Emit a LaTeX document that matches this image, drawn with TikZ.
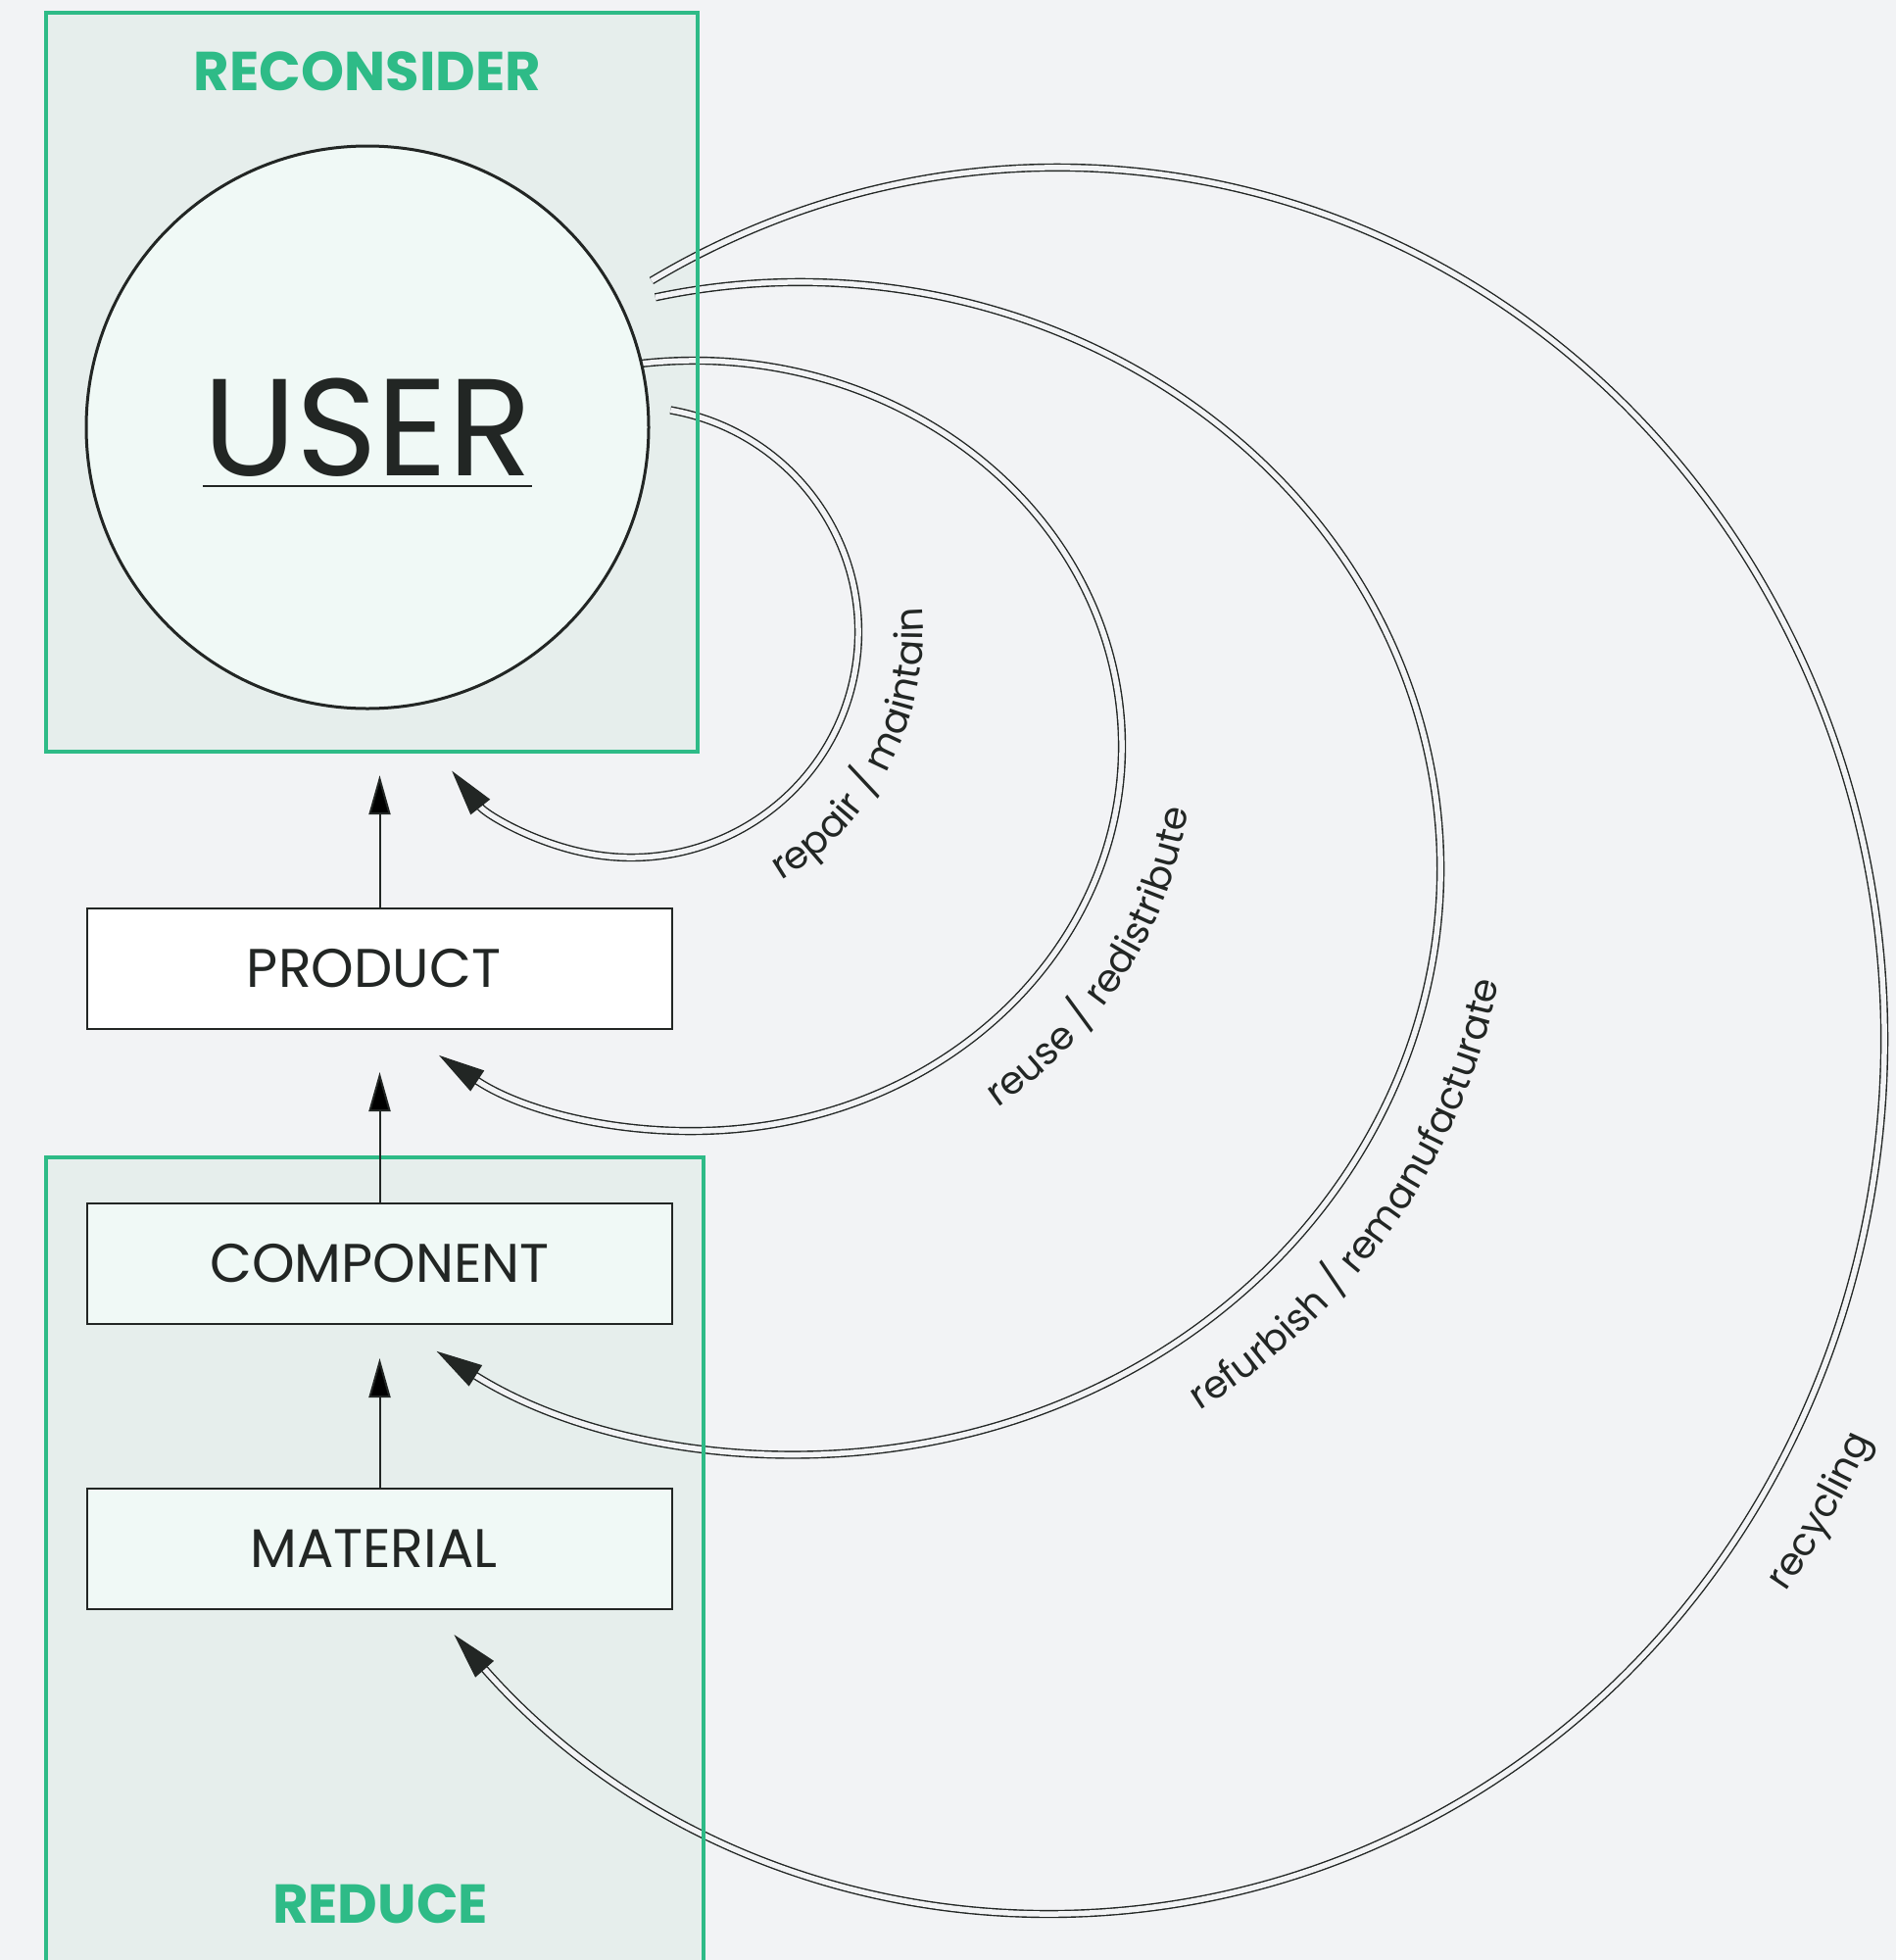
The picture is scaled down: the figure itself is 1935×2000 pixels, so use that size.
\documentclass[tikz,border=0pt]{standalone}
\usepackage{fontspec}
\setmainfont{Poppins}
\usetikzlibrary{arrows.meta,calc,decorations.text}

\definecolor{paper}{HTML}{F2F3F5}
\definecolor{groupfill}{HTML}{E6EEEC}
\definecolor{mint}{HTML}{F0F9F6}
\definecolor{leaf}{HTML}{2EBB87}
\definecolor{ink}{HTML}{222624}

\newcommand\titlefont{\fontsize{56}{60}\selectfont\bfseries}
\newcommand\userfont{\fontsize{141}{146}\selectfont}
\newcommand\stagefont{\fontsize{55.5}{60}\selectfont}
\newcommand\lblfont{\fontsize{39}{42}\selectfont}

\tikzset{
  groupbg/.style={fill=groupfill, draw=none, inner sep=0pt},
  frame/.style={draw=leaf, line width=4pt},
  grouptitle/.style={text=leaf, font=\titlefont, inner sep=0pt},
  stage/.style={draw=ink, line width=2pt, fill=mint, minimum width=597pt,
    minimum height=123pt, inner sep=0pt, font=\stagefont, text=ink},
  lift/.style={draw=ink, line width=2pt, -{Triangle[length=40pt,width=22pt]}},
  flow/.style={draw=ink, line width=1.4pt, double=paper, double distance=5.5pt,
    -{Triangle[length=47pt,width=25pt]}},
  looplabel/.style={decorate, decoration={text along path, text color=ink,
    text align=center, text={|\lblfont|#1}}}
}

\begin{document}
\begin{tikzpicture}[x=1pt,y=-1pt]
\useasboundingbox (0,0) rectangle (1935,2000);
\clip (0,0) rectangle (1935,2000);
\fill[paper] (0,0) rectangle (1935,2000);

% shaded group areas
\node[groupbg, minimum width=665pt, minimum height=754pt] (reconsidergroup) at (379.5,390) {};
\node[groupbg, minimum width=671pt, minimum height=849pt] (reducegroup) at (382.5,1605.5) {};

% centres of the return loops
\coordinate (c1) at (644,645);
\coordinate (c2) at (708,761);
\coordinate (c3) at (816,886);
\coordinate (c4) at (1080,1061);

% loop starts beside the user circle
\coordinate (s1) at ($(c1)+(-80:232 and 230)$);
\coordinate (s2) at ($(c2)+(-97:437 and 393)$);
\coordinate (s3) at ($(c3)+(-103:654 and 598)$);
\coordinate (s4) at ($(c4)+(-119.5:843 and 890)$);

% return loops
\draw[flow] (s1) arc[start angle=-80, end angle=142, x radius=232, y radius=230];
\draw[flow] (s2) arc[start angle=-97, end angle=126.5, x radius=437, y radius=393];
\draw[flow] (s3) arc[start angle=-103, end angle=124.5, x radius=654, y radius=598];
\draw[flow] (s4) arc[start angle=-119.5, end angle=137, x radius=843, y radius=890];

% loop labels
\path[looplabel={repair / maintain}] ($(c1)+(67:298 and 296)$)
  arc[start angle=67, end angle=-13, x radius=298, y radius=296];
\path[looplabel={reuse / redistribute}] ($(c2)+(60:510 and 466)$)
  arc[start angle=60, end angle=0, x radius=510, y radius=466];
\path[looplabel={refurbish / remanufacturate}] ($(c3)+(65:724 and 670)$)
  arc[start angle=65, end angle=0, x radius=724, y radius=670];
\path[looplabel={recycling}] ($(c4)+(46:916 and 963)$)
  arc[start angle=46, end angle=15, x radius=916, y radius=963];

% group frames
\draw[frame] (reconsidergroup.south west) rectangle (reconsidergroup.north east);
\draw[frame] (reducegroup.south west) rectangle (reducegroup.north east);

\node[grouptitle] (reconsidertitle) at (375,73) {RECONSIDER};
\node[grouptitle] (reducetitle) at (388,1943) {REDUCE};

% user
\node[circle, draw=ink, line width=3pt, fill=mint, minimum size=574pt, inner sep=0pt] (user) at (375,436) {};
\node[text=ink, font=\userfont, inner sep=0pt] (userword) at (user.center) {USER};
\draw[ink, line width=2pt] ([yshift=-11pt]userword.base west) -- ([yshift=-11pt]userword.base east);

% stages
\node[stage, fill=white] (product) at (387.5,988.5) {PRODUCT\kern12pt};
\node[stage] (component) at (387.5,1289.5) {COMPONENT};
\node[stage] (material) at (387.5,1580.5) {MATERIAL\kern12pt};

% upward flow
\draw[lift, shorten >=24pt] (product.north) -- (product.north |- reconsidergroup.south);
\draw[lift, shorten >=43pt] (component) -- (product);
\draw[lift, shorten >=34pt] (material) -- (component);
\end{tikzpicture}
\end{document}
